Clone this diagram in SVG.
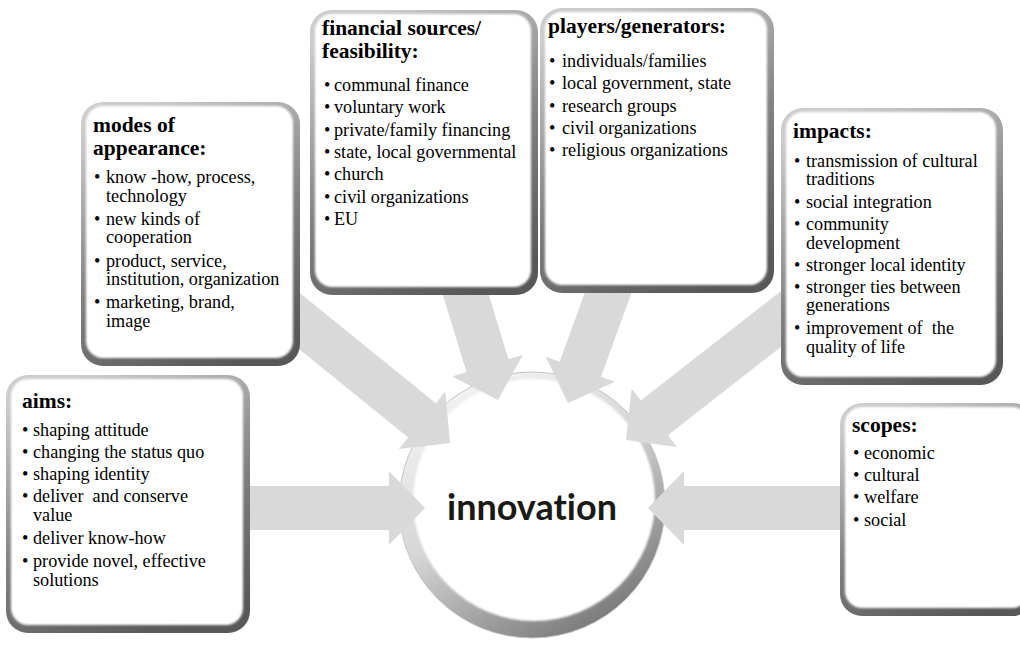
<svg xmlns="http://www.w3.org/2000/svg" width="1020" height="645" viewBox="0 0 1020 645">
<style>
.frame{fill:url(#fg);}
.inner{fill:#ffffff;filter:url(#soft);}
.t{font-family:'Liberation Serif','Times New Roman',Tinos,'DejaVu Serif',serif;font-size:21.5px;font-weight:bold;fill:#000;}
.i{font-family:'Liberation Serif','Times New Roman',Tinos,'DejaVu Serif',serif;font-size:18.2px;fill:#000;}
.c{font-family:Lato,'Open Sans',sans-serif;font-weight:bold;font-size:36px;fill:#1a1a14;text-anchor:middle;font-variant-ligatures:none;}
.arrow{fill:#d9d9d9;}
</style>
<defs>
<linearGradient id="fg" x1="0.3" y1="0" x2="0.7" y2="1">
<stop offset="0" stop-color="#cccccc"/>
<stop offset="0.55" stop-color="#808080"/>
<stop offset="1" stop-color="#585858"/>
</linearGradient>
<linearGradient id="ring" x1="0.2" y1="0" x2="0.8" y2="1">
<stop offset="0" stop-color="#f6f6f6"/>
<stop offset="0.45" stop-color="#d6d6d6"/>
<stop offset="1" stop-color="#6f6f6f"/>
</linearGradient>
<filter id="soft" x="-5%" y="-5%" width="110%" height="110%">
<feGaussianBlur stdDeviation="1.3"/>
</filter>
</defs>
<rect width="1020" height="645" fill="#ffffff"/>

<g id="innovation">
<circle cx="532" cy="505" r="133" fill="url(#ring)" stroke="#c4c4c4" stroke-width="1"/>
<circle cx="534" cy="500" r="121" fill="#ffffff" filter="url(#soft)"/>
<text class="c" x="532" y="520">innovation</text>
</g>

<g id="connectors">
<path class="arrow" transform="translate(425,508)" d="M0,0 L-36,-37 L-36,-22 L-190,-22 L-190,22 L-36,22 L-36,37 Z"/>
<path class="arrow" transform="translate(648,508) rotate(180)" d="M0,0 L-36,-37 L-36,-22 L-200,-22 L-200,22 L-36,22 L-36,37 Z"/>
<path class="arrow" transform="translate(450,443) rotate(39)" d="M0,0 L-36,-37 L-36,-22 L-250,-22 L-250,22 L-36,22 L-36,37 Z"/>
<path class="arrow" transform="translate(498,400) rotate(73)" d="M0,0 L-36,-37 L-36,-22 L-140,-22 L-140,22 L-36,22 L-36,37 Z"/>
<path class="arrow" transform="translate(568,403) rotate(110)" d="M0,0 L-36,-37 L-36,-22 L-140,-22 L-140,22 L-36,22 L-36,37 Z"/>
<path class="arrow" transform="translate(626,440) rotate(142)" d="M0,0 L-36,-37 L-36,-22 L-220,-22 L-220,22 L-36,22 L-36,37 Z"/>
</g>

<g id="aims">
<rect class="frame" x="6" y="375" width="244" height="258" rx="22"/>
<rect class="inner" x="11" y="379" width="232" height="246" rx="17"/>
<text class="t" x="22" y="408">aims:</text>
<text class="i"><tspan x="22" y="436">•</tspan><tspan x="33">shaping attitude</tspan></text>
<text class="i"><tspan x="22" y="458">•</tspan><tspan x="33">changing the status quo</tspan></text>
<text class="i"><tspan x="22" y="480">•</tspan><tspan x="33">shaping identity</tspan></text>
<text class="i" xml:space="preserve"><tspan x="22" y="502">•</tspan><tspan x="33">deliver  and conserve</tspan></text>
<text class="i" x="33" y="521">value</text>
<text class="i"><tspan x="22" y="544">•</tspan><tspan x="33">deliver know-how</tspan></text>
<text class="i"><tspan x="22" y="567">•</tspan><tspan x="33">provide novel, effective</tspan></text>
<text class="i" x="33" y="586">solutions</text>
</g>

<g id="modes">
<rect class="frame" x="81" y="102" width="219" height="264" rx="22"/>
<rect class="inner" x="86" y="106" width="207" height="252" rx="17"/>
<text class="t" x="93" y="132">modes of</text>
<text class="t" x="93" y="155">appearance:</text>
<text class="i"><tspan x="94" y="183">•</tspan><tspan x="106">know -how, process,</tspan></text>
<text class="i" x="106" y="202">technology</text>
<text class="i"><tspan x="94" y="225">•</tspan><tspan x="106">new kinds of</tspan></text>
<text class="i" x="106" y="243">cooperation</text>
<text class="i"><tspan x="94" y="267">•</tspan><tspan x="106">product, service,</tspan></text>
<text class="i" x="106" y="285">institution, organization</text>
<text class="i"><tspan x="94" y="308">•</tspan><tspan x="106">marketing, brand,</tspan></text>
<text class="i" x="106" y="327">image</text>
</g>

<g id="financial">
<rect class="frame" x="310" y="10" width="228" height="285" rx="22"/>
<rect class="inner" x="315" y="14" width="216" height="273" rx="17"/>
<text class="t" x="322" y="35">financial sources/</text>
<text class="t" x="322" y="58">feasibility:</text>
<text class="i"><tspan x="324" y="91">•</tspan><tspan x="334">communal finance</tspan></text>
<text class="i"><tspan x="324" y="113">•</tspan><tspan x="334">voluntary work</tspan></text>
<text class="i"><tspan x="324" y="136">•</tspan><tspan x="334">private/family financing</tspan></text>
<text class="i"><tspan x="324" y="158">•</tspan><tspan x="334">state, local governmental</tspan></text>
<text class="i"><tspan x="324" y="180">•</tspan><tspan x="334">church</tspan></text>
<text class="i"><tspan x="324" y="203">•</tspan><tspan x="334">civil organizations</tspan></text>
<text class="i"><tspan x="324" y="225">•</tspan><tspan x="334">EU</tspan></text>
</g>

<g id="players">
<rect class="frame" x="540" y="8" width="234" height="285" rx="22"/>
<rect class="inner" x="545" y="12" width="222" height="273" rx="17"/>
<text class="t" x="548" y="33">players/generators:</text>
<text class="i"><tspan x="549" y="67">•</tspan><tspan x="562">individuals/families</tspan></text>
<text class="i"><tspan x="549" y="89">•</tspan><tspan x="562">local government, state</tspan></text>
<text class="i"><tspan x="549" y="112">•</tspan><tspan x="562">research groups</tspan></text>
<text class="i"><tspan x="549" y="134">•</tspan><tspan x="562">civil organizations</tspan></text>
<text class="i"><tspan x="549" y="156">•</tspan><tspan x="562">religious organizations</tspan></text>
</g>

<g id="impacts">
<rect class="frame" x="781" y="108" width="222" height="277" rx="22"/>
<rect class="inner" x="786" y="112" width="210" height="265" rx="17"/>
<text class="t" x="793" y="138">impacts:</text>
<text class="i"><tspan x="794" y="167">•</tspan><tspan x="806">transmission of cultural</tspan></text>
<text class="i" x="806" y="185">traditions</text>
<text class="i"><tspan x="794" y="208">•</tspan><tspan x="806">social integration</tspan></text>
<text class="i"><tspan x="794" y="230">•</tspan><tspan x="806">community</tspan></text>
<text class="i" x="806" y="249">development</text>
<text class="i"><tspan x="794" y="271">•</tspan><tspan x="806">stronger local identity</tspan></text>
<text class="i"><tspan x="794" y="293">•</tspan><tspan x="806">stronger ties between</tspan></text>
<text class="i" x="806" y="311">generations</text>
<text class="i" xml:space="preserve"><tspan x="794" y="334">•</tspan><tspan x="806">improvement of  the</tspan></text>
<text class="i" x="806" y="353">quality of life</text>
</g>

<g id="scopes">
<rect class="frame" x="840" y="403" width="195" height="213" rx="22"/>
<rect class="inner" x="845" y="407" width="184" height="201" rx="17"/>
<text class="t" x="852" y="432">scopes:</text>
<text class="i"><tspan x="853" y="459">•</tspan><tspan x="864">economic</tspan></text>
<text class="i"><tspan x="853" y="481">•</tspan><tspan x="864">cultural</tspan></text>
<text class="i"><tspan x="853" y="503">•</tspan><tspan x="864">welfare</tspan></text>
<text class="i"><tspan x="853" y="526">•</tspan><tspan x="864">social</tspan></text>
</g>
</svg>
